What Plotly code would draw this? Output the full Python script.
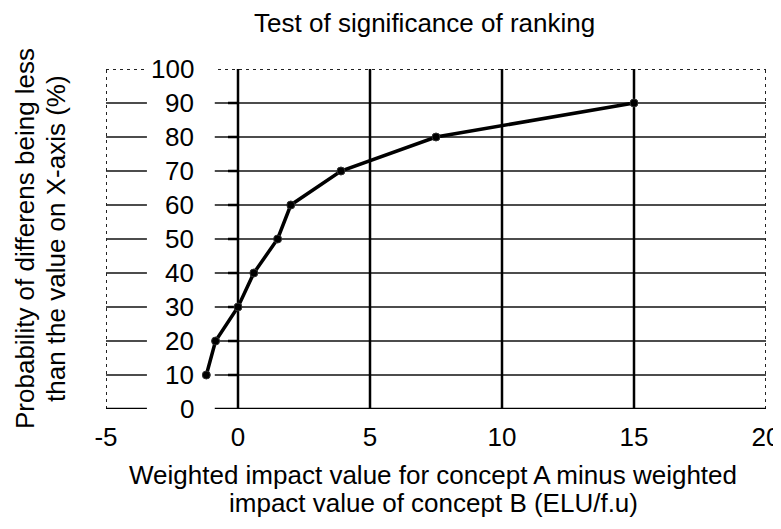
import plotly.graph_objects as go

# data
diff_values = [-1.2, -0.85, 0, 0.6, 1.5, 2.0, 3.9, 7.5, 15]
probability = [10, 20, 30, 40, 50, 60, 70, 80, 90]

x_ticks = [-5, 0, 5, 10, 15, 20]
x_tick_labels = ["-5", "0", "5", "10", "15", "20"]
y_ticks = [0, 10, 20, 30, 40, 50, 60, 70, 80, 90, 100]

title_text = "Test of significance of ranking"
x_title_lines = ["Weighted impact value for concept A minus weighted",
                 "impact value of concept B (ELU/f.u)"]
y_title_lines = ["Probability of differens being less",
                 "than the value on X-axis (%)"]

FONT = "Liberation Sans, Arial, sans-serif"
FS = 26
x_min, x_max = x_ticks[0], x_ticks[-1]
y_min, y_max = y_ticks[0], y_ticks[-1]
label_box = (-3.45, -0.88)   # white box behind y labels (data units)

shapes = []
# thin horizontal grid
for v in y_ticks[1:-1]:
    shapes.append(dict(type="line", layer="below", x0=x_min, x1=x_max, y0=v, y1=v,
                       line=dict(color="#111111", width=1.5)))
# dotted border top/left/right
dot = dict(color="#222222", width=2, dash="3px,4px")
shapes.append(dict(type="line", layer="below", x0=x_min, x1=x_max, y0=y_max, y1=y_max, line=dot))
shapes.append(dict(type="line", layer="below", x0=x_min, x1=x_min, y0=y_min, y1=y_max, line=dot))
shapes.append(dict(type="line", layer="below", x0=x_max, x1=x_max, y0=y_min, y1=y_max, line=dot))
# x axis line and vertical grid
shapes.append(dict(type="line", layer="below", x0=x_min, x1=x_max, y0=y_min, y1=y_min,
                   line=dict(color="black", width=2.5)))
for v in x_ticks[1:-1]:
    shapes.append(dict(type="line", layer="below", x0=v, x1=v, y0=y_min, y1=y_max,
                       line=dict(color="black", width=2.5)))
# y tick marks on the axis at x=0
for v in y_ticks[1:-1]:
    shapes.append(dict(type="line", layer="below", xsizemode="pixel", xanchor=0, x0=-10, x1=0,
                       y0=v, y1=v, line=dict(color="black", width=2.5)))
# white boxes behind y labels
for v in y_ticks:
    shapes.append(dict(type="rect", layer="below", x0=label_box[0], x1=label_box[1],
                       y0=v - 4, y1=v + 4, fillcolor="white", line=dict(width=0)))

txt = dict(family=FONT, size=FS, color="black")
annotations = []
for v in y_ticks:
    annotations.append(dict(x=0, y=v, xref="x", yref="y", text=str(v), showarrow=False,
                            xanchor="right", yanchor="middle", xshift=-42, font=txt))
for i, line in enumerate(x_title_lines):
    annotations.append(dict(x=0.5, y=0, xref="paper", yref="paper", text=line, showarrow=False,
                            xanchor="center", yanchor="middle", xshift=-3, yshift=-66 - 28 * i,
                            font=txt))
for i, line in enumerate(y_title_lines):
    annotations.append(dict(x=0, y=0.5, xref="paper", yref="paper", text=line, showarrow=False,
                            xanchor="center", yanchor="middle", xshift=-81 + 31 * i,
                            textangle=-90, font=txt))

fig = go.Figure(go.Scatter(
    x=diff_values, y=probability, mode="lines+markers",
    line=dict(color="black", width=3.5),
    marker=dict(color="black", size=8, line=dict(color="#333", width=1)),
    cliponaxis=False,
))

# page has an 8px body margin: figure sits at (8, 8); keep it (and the
# "20" label) inside the 781x529 window so no scrollbars appear
fig.update_layout(
    width=773, height=512,
    margin=dict(l=98, r=15, t=61, b=111, autoexpand=False),
    plot_bgcolor="white", paper_bgcolor="white",
    showlegend=False,
    title=dict(text=title_text, x=0.539, xanchor="center", y=1 - 15 / 512, yanchor="middle",
               font=txt),
    xaxis=dict(range=[x_min, x_max], tickvals=x_ticks, ticktext=x_tick_labels,
               showgrid=False, zeroline=False, showline=False, ticks="", automargin=False,
               ticklabelstandoff=10, ticklabeloverflow="allow", tickfont=txt),
    yaxis=dict(range=[y_min, y_max], showgrid=False, zeroline=False, showline=False,
               showticklabels=False, ticks="", automargin=False),
    shapes=shapes,
    annotations=annotations,
)

fig.write_html("out.html")
